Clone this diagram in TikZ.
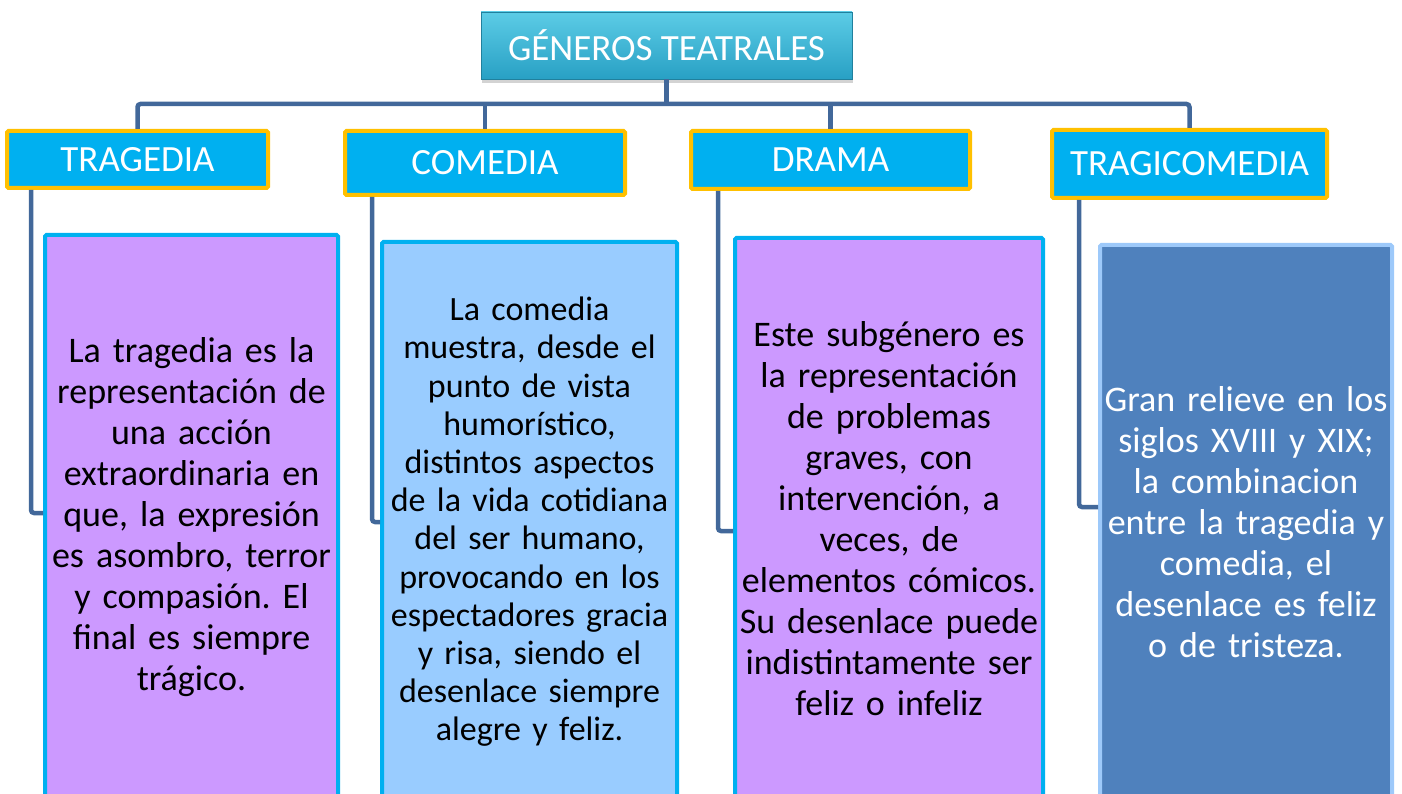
\documentclass[tikz,border=0pt]{standalone}
\usepackage{fontspec}
\setmainfont{Carlito}
\frenchspacing
\usetikzlibrary{shadows}

\definecolor{titletop}{RGB}{92,204,230}
\definecolor{titlebot}{RGB}{40,160,196}
\definecolor{headfill}{RGB}{0,176,240}
\definecolor{headline}{RGB}{255,192,0}
\definecolor{linkblue}{RGB}{66,104,154}
\definecolor{lilac}{RGB}{204,153,255}
\definecolor{skyblue}{RGB}{153,204,255}
\definecolor{steel}{RGB}{79,129,189}
\definecolor{paleedge}{RGB}{157,201,250}

\begin{document}
\begin{tikzpicture}[x=1pt, y=-1pt,
		title/.style={draw=titlebot!80!black, line width=0.6pt, top color=titletop, bottom color=titlebot, text=white, inner sep=0pt, font=\fontsize{37}{44}\selectfont, drop shadow={shadow xshift=1pt, shadow yshift=-4pt, opacity=0.35}},
		head/.style={draw=headline, fill=headfill, line width=4pt, rounded corners=1.5pt, text=white, inner sep=0pt, font=\fontsize{37}{44}\selectfont},
		note/.style={draw=headfill, line width=4pt, rounded corners=1.5pt, inner sep=0pt, align=center, font=\fontsize{36}{41}\selectfont},
		link/.style={draw=linkblue, line width=4.5pt, rounded corners=3pt}]
			\useasboundingbox (0,0) rectangle (1402,794);
			\clip (0,0) rectangle (1402,794);
			
			\node[title, minimum width=371pt, minimum height=67pt] (gen) at (666.5,45.5) {GÉNEROS TEATRALES};
			
			\node[head, minimum width=261pt, minimum height=57pt] (trag) at (137.5,159.5) {TRAGEDIA};
			\node[head, minimum width=280pt, minimum height=64pt] (com) at (485,163) {COMEDIA};
			\node[head, minimum width=279pt, minimum height=58pt] (dra) at (830.5,160) {DRAMA};
			\node[head, minimum width=275pt, minimum height=68pt] (tcom) at (1189.5,164) {TRAGICOMEDIA};
			\coordinate (bus) at (666.5,104);
			
			\draw[link] (gen.south) -- (bus);
			\draw[link] (trag.north) |- (bus) -| (tcom.north);
			\draw[link] (com.north) -- (com.north |- bus);
			\draw[link] (dra.north) -- (dra.north |- bus);
			
			\node[note, fill=lilac, minimum width=293pt, minimum height=565pt, text width=292pt] (tragtxt) at (191.5,517.5) {La tragedia es la\\representación de\\una acción\\extraordinaria en\\que, la expresión\\es asombro, terror\\y compasión. El\\final es siempre\\trágico.};
			\node[note, fill=skyblue, minimum width=295pt, minimum height=560pt, text width=294pt, font=\fontsize{34}{38.2}\selectfont] (comtxt) at (529.5,522) {La comedia\\muestra, desde el\\punto de vista\\humorístico,\\distintos aspectos\\de la vida cotidiana\\del ser humano,\\provocando en los\\espectadores gracia\\y risa, siendo el\\desenlace siempre\\alegre y feliz.};
			\node[note, fill=lilac, minimum width=308pt, minimum height=562pt, text width=307pt] (dratxt) at (889,519) {Este subgénero es\\la representación\\de problemas\\graves, con\\intervención, a\\veces, de\\elementos cómicos.\\Su desenlace puede\\indistintamente ser\\feliz o infeliz};
			\node[note, draw=paleedge, fill=steel, text=white, minimum width=292pt, minimum height=555pt, text width=291pt] (tcomtxt) at (1246,522.5) {Gran relieve en los\\siglos XVIII y XIX;\\la combinacion\\entre la tragedia y\\comedia, el\\desenlace es feliz\\o de tristeza.};
			
			\draw[link] ([xshift=26pt]trag.south west) |- ([yshift=4.5pt]tragtxt.west);
			\draw[link] ([xshift=29pt]com.south west) |- (comtxt.west);
			\draw[link] ([xshift=29pt]dra.south west) |- ([yshift=-12pt]dratxt.west);
			\draw[link] ([xshift=29pt]tcom.south west) |- ([yshift=15.5pt]tcomtxt.west);
			
		\end{tikzpicture}
\end{document}
